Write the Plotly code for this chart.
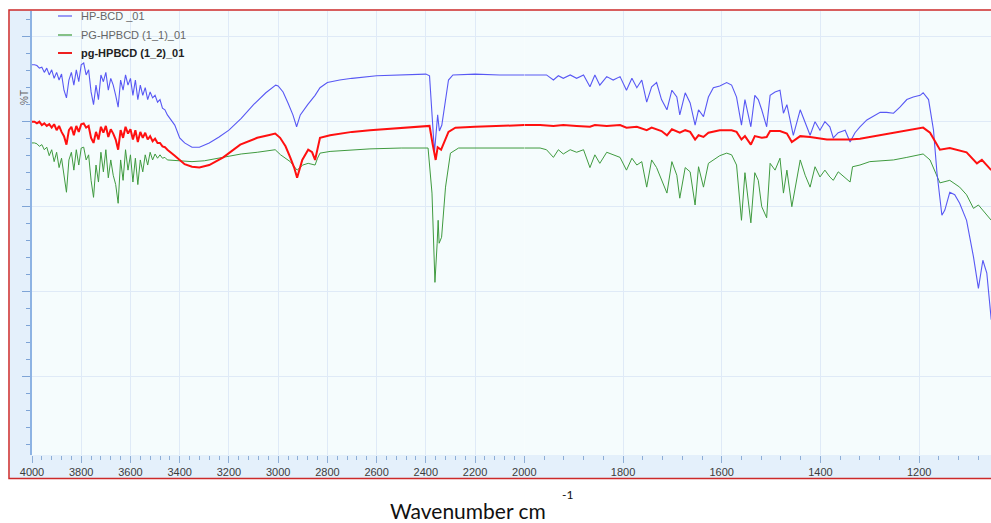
import plotly.graph_objects as go

# ---------------- data (wavenumber cm-1, %T) ----------------
wn_noise = [4000, 3990, 3980, 3970, 3960, 3950, 3940, 3930, 3920, 3910,
            3900, 3890, 3880, 3870, 3860, 3850, 3840, 3830, 3820, 3810,
            3800, 3790, 3780, 3770, 3760, 3750, 3740, 3730, 3720, 3710,
            3700, 3690, 3680, 3670, 3660, 3650, 3640, 3630, 3620, 3610,
            3600, 3590, 3580, 3570, 3560, 3550, 3540, 3530, 3520, 3510,
            3500, 3490, 3480, 3470, 3460, 3450]

blue_noise = [96.7, 96.7, 96.6, 96.3, 96.4, 95.8, 96.3, 95.5, 96.1, 95.1,
              95.8, 94.9, 95.6, 93.7, 92.8, 94.9, 95.8, 94.3, 96.1, 94.7,
              96.7, 96.9, 95.5, 96.1, 93.5, 92.0, 94.3, 92.6, 95.5, 94.7,
              95.8, 93.7, 95.1, 94.3, 93.1, 91.7, 94.9, 93.7, 95.5, 94.3,
              95.1, 93.1, 94.9, 92.6, 94.3, 93.1, 94.0, 92.6, 93.5, 92.8,
              93.1, 92.3, 92.6, 91.6, 91.4, 90.8]
red_noise = [90.0, 90.0, 89.8, 90.0, 89.6, 89.8, 89.5, 89.7, 89.3, 89.7,
             89.0, 89.5, 88.8, 88.3, 87.3, 89.0, 89.4, 88.4, 89.5, 88.8,
             89.7, 89.8, 89.3, 89.5, 88.1, 87.5, 88.8, 87.9, 89.4, 88.7,
             89.5, 88.2, 89.1, 88.6, 87.9, 86.7, 89.0, 88.1, 89.4, 88.6,
             89.1, 87.9, 89.0, 87.6, 88.8, 88.1, 88.7, 87.9, 88.3, 87.7,
             88.0, 87.5, 87.5, 87.1, 87.0, 86.7]
green_noise = [87.5, 87.5, 87.4, 87.1, 87.3, 86.7, 87.0, 86.0, 86.7, 85.3,
               86.4, 84.6, 85.7, 83.7, 81.7, 85.5, 86.4, 84.3, 86.7, 84.9,
               86.9, 87.0, 85.5, 86.1, 83.1, 81.1, 84.9, 82.9, 86.4, 84.1,
               86.7, 83.4, 85.5, 83.7, 82.6, 80.4, 85.5, 83.1, 86.7, 84.3,
               86.1, 82.9, 85.7, 82.6, 85.5, 84.1, 86.1, 84.9, 86.4, 85.5,
               86.2, 85.7, 86.1, 85.7, 85.8, 85.5]

blue_mid_wn = [3420, 3400, 3380, 3350, 3320, 3280, 3240, 3200, 3150, 3100,
               3050, 3020, 3010, 3000, 2980, 2960, 2940, 2925, 2910, 2880,
               2850, 2830, 2800, 2750, 2700, 2600, 2500, 2400, 2385, 2375,
               2365, 2352, 2345, 2335, 2320, 2308, 2290, 2200, 2100, 2050]
blue_mid_t = [89.6, 88.1, 87.5, 87.0, 87.0, 87.5, 88.2, 89.0, 90.4, 92.0,
              93.4, 94.1, 94.3, 94.2, 93.5, 92.2, 90.8, 89.4, 90.8, 92.0,
              93.1, 94.0, 94.6, 94.9, 95.1, 95.4, 95.5, 95.6, 95.4, 91.4,
              86.4, 90.8, 88.9, 89.6, 92.6, 94.9, 95.5, 95.6, 95.5, 95.5]

red_mid_wn = [3420, 3400, 3380, 3350, 3320, 3280, 3223, 3154, 3085, 3040,
              3012, 2992, 2970, 2951, 2935, 2923, 2910, 2902, 2878, 2862,
              2850, 2840, 2830, 2789, 2700, 2627, 2500, 2400, 2385, 2372,
              2360, 2352, 2338, 2308, 2280, 2200, 2100, 2050]
red_mid_t = [86.0, 85.5, 85.0, 84.7, 84.6, 84.9, 85.8, 87.3, 88.1, 88.4,
             88.6, 88.1, 87.1, 85.8, 84.6, 83.4, 84.9, 85.5, 86.7, 86.4,
             85.5, 86.9, 88.1, 88.4, 88.8, 89.0, 89.3, 89.5, 89.5, 87.3,
             85.5, 87.0, 86.7, 88.8, 89.3, 89.4, 89.5, 89.6]

green_mid_wn = [3400, 3350, 3300, 3223, 3150, 3085, 3012, 2990, 2951, 2923,
                2900, 2878, 2860, 2850, 2840, 2830, 2789, 2700, 2627, 2500,
                2391, 2375, 2363, 2354, 2350, 2346, 2336, 2320, 2300, 2267,
                2200, 2100, 2050]
green_mid_t = [85.4, 85.3, 85.4, 85.8, 86.2, 86.4, 86.7, 86.1, 85.3, 84.3,
               84.9, 85.1, 85.0, 84.9, 85.7, 86.3, 86.5, 86.7, 86.8, 86.9,
               86.9, 81.6, 71.1, 75.7, 78.4, 75.7, 76.4, 82.3, 86.3, 86.9,
               86.9, 86.9, 86.9]

blue_low_wn = [2000, 1968, 1955, 1941, 1931, 1921, 1907, 1894, 1880, 1867,
               1857, 1847, 1833, 1820, 1806, 1793, 1782, 1772, 1762, 1752,
               1742, 1732, 1722, 1711, 1701, 1691, 1685, 1674, 1664, 1654,
               1647, 1637, 1627, 1617, 1604, 1590, 1580, 1570, 1560, 1553,
               1541, 1533, 1526, 1519, 1509, 1502, 1492, 1482, 1475, 1468,
               1462, 1455, 1441, 1431, 1421, 1411, 1401, 1391, 1381, 1374,
               1364, 1350, 1340, 1330, 1320, 1306, 1293, 1279, 1266, 1252,
               1239, 1225, 1212, 1198, 1192, 1181, 1171, 1164, 1154, 1148,
               1138, 1128, 1118, 1104, 1090, 1080, 1071, 1063, 1054]
blue_low_t = [95.5, 95.5, 95.5, 94.9, 95.4, 95.1, 95.5, 95.1, 95.5, 94.1,
              95.5, 94.3, 95.3, 94.9, 95.3, 93.7, 95.1, 94.0, 94.9, 92.3,
              94.1, 94.6, 92.6, 91.4, 93.7, 92.9, 90.8, 93.4, 92.2, 89.6,
              91.4, 90.6, 92.9, 94.0, 94.2, 94.6, 94.3, 92.9, 89.6, 92.6,
              89.4, 93.1, 92.6, 91.4, 89.4, 93.1, 93.5, 93.7, 91.0, 92.0,
              90.4, 88.4, 91.4, 89.8, 88.4, 90.0, 89.0, 90.0, 89.4, 88.1,
              88.7, 89.0, 87.6, 88.7, 89.4, 90.2, 90.6, 91.1, 91.1, 91.0,
              91.7, 92.6, 92.9, 93.1, 93.4, 92.6, 89.0, 84.0, 79.0, 79.6,
              81.7, 81.4, 80.4, 78.4, 74.1, 70.4, 73.7, 72.2, 66.7]

red_low_wn = [2000, 1968, 1941, 1921, 1894, 1867, 1857, 1833, 1806, 1793,
              1772, 1752, 1742, 1722, 1711, 1701, 1685, 1674, 1664, 1654,
              1647, 1637, 1627, 1604, 1580, 1570, 1560, 1553, 1541, 1533,
              1519, 1509, 1502, 1482, 1468, 1458, 1441, 1421, 1387, 1340,
              1320, 1279, 1225, 1192, 1178, 1158, 1138, 1104, 1083, 1073,
              1054]
red_low_t = [89.6, 89.6, 89.5, 89.6, 89.5, 89.4, 89.6, 89.5, 89.6, 89.3,
             89.4, 89.0, 89.3, 88.9, 88.4, 89.1, 88.7, 89.0, 88.8, 87.9,
             88.4, 88.2, 88.7, 89.0, 89.0, 88.8, 87.9, 88.3, 87.3, 88.3,
             88.1, 88.2, 88.9, 88.9, 88.6, 87.6, 88.3, 88.2, 87.9, 87.9,
             88.0, 88.4, 89.0, 89.3, 88.7, 86.7, 86.9, 86.4, 85.1, 85.5,
             84.3]

green_low_wn = [2000, 1968, 1955, 1941, 1931, 1921, 1907, 1894, 1880, 1867,
                1857, 1847, 1833, 1820, 1806, 1793, 1782, 1772, 1762, 1752,
                1742, 1732, 1722, 1711, 1701, 1691, 1685, 1674, 1664, 1654,
                1647, 1637, 1627, 1617, 1604, 1590, 1580, 1570, 1560, 1553,
                1541, 1533, 1526, 1519, 1509, 1502, 1492, 1482, 1475, 1468,
                1458, 1441, 1431, 1421, 1411, 1401, 1391, 1381, 1374, 1364,
                1350, 1340, 1335, 1320, 1300, 1252, 1225, 1198, 1192, 1178,
                1164, 1158, 1138, 1118, 1104, 1090, 1080, 1054]
green_low_t = [86.9, 86.9, 86.7, 85.8, 86.7, 86.2, 86.7, 86.4, 86.7, 84.6,
               86.1, 85.1, 86.4, 86.1, 85.8, 84.3, 85.7, 84.9, 85.3, 82.3,
               85.5, 84.6, 83.1, 81.6, 85.3, 83.7, 81.0, 84.6, 84.1, 80.2,
               84.7, 82.3, 85.1, 85.5, 86.0, 86.3, 86.1, 84.9, 78.4, 84.0,
               78.1, 84.0, 83.1, 80.0, 78.7, 85.1, 84.3, 85.7, 81.6, 84.3,
               80.0, 85.5, 83.7, 82.3, 84.7, 83.5, 84.3, 83.5, 83.1, 84.1,
               83.4, 82.9, 84.7, 84.9, 85.3, 85.5, 85.8, 86.2, 86.2, 85.5,
               83.7, 82.8, 83.1, 82.3, 81.4, 79.8, 80.2, 78.4]

series_names = ["HP-BCD _01", "PG-HPBCD (1_1)_01", "pg-HPBCD (1_2)_01"]
ticks_high = [4000, 3800, 3600, 3400, 3200, 3000, 2800, 2600, 2400, 2200]
ticks_low = [2000, 1800, 1600, 1400, 1200]

# ---------------- figure ----------------
W, H = 991, 523
ML, MR, MT, MB = 32, 0, 11, 68
PW, PH = W - ML - MR, H - MT - MB


def px(x):
    return (x - ML) / PW


def py(y):
    return (H - MB - y) / PH


split = px(524.3)

series = {
    "blue": (wn_noise + blue_mid_wn, blue_noise + blue_mid_t, blue_low_wn, blue_low_t),
    "green": (wn_noise + green_mid_wn, green_noise + green_mid_t, green_low_wn, green_low_t),
    "red": (wn_noise + red_mid_wn, red_noise + red_mid_t, red_low_wn, red_low_t),
}
styles = {
    "blue": dict(color="#5858f4", width=1.1),
    "green": dict(color="#3f9a3f", width=1.0),
    "red": dict(color="#ff1010", width=2.0),
}

fig = go.Figure()
for key in ["green", "blue", "red"]:
    hw, ht, lw, lt = series[key]
    # connect the two panels at 2000 cm-1
    fig.add_trace(go.Scatter(x=hw + [lw[0]], y=ht + [lt[0]], mode="lines",
                             line=styles[key], xaxis="x", yaxis="y",
                             showlegend=False, hoverinfo="skip"))
    fig.add_trace(go.Scatter(x=lw, y=lt, mode="lines", line=styles[key],
                             xaxis="x2", yaxis="y", showlegend=False,
                             hoverinfo="skip"))

tickfont = dict(family="Liberation Sans, Arial, sans-serif", size=11, color="#3c3c3c")
grid_c = "#dfeaf7"
tick_c = "#8eaed6"
common_x = dict(showgrid=True, gridcolor=grid_c, gridwidth=1, zeroline=False,
                ticks="outside", ticklen=7, tickcolor=tick_c, tickwidth=1,
                tickfont=tickfont, showline=False, tickmode="array",
                minor=dict(tickmode="linear", tick0=0, dtick=40, ticks="outside",
                           ticklen=4, tickcolor=tick_c, tickwidth=1, showgrid=False))

fig.update_layout(
    width=W, height=H,
    margin=dict(l=ML, r=MR, t=MT, b=MB, pad=0),
    paper_bgcolor="white",
    plot_bgcolor="#f5fcfd",
    showlegend=False,
    xaxis=dict(domain=[0, split], range=[4000, 2000], tickvals=ticks_high,
               anchor="y", **common_x),
    xaxis2=dict(domain=[split, 1], range=[2000, 1054.5], tickvals=ticks_low,
                anchor="y", **common_x),
    yaxis=dict(range=[50.79, 103.02], tickmode="linear", tick0=0, dtick=10,
               showticklabels=False, showgrid=True, gridcolor=grid_c,
               zeroline=False, ticks="outside", ticklen=8, tickcolor="#7ea4d6",
               tickwidth=1, showline=True, linecolor="#8db3e3", linewidth=2,
               minor=dict(dtick=2, ticks="outside", ticklen=4,
                          tickcolor="#7ea4d6", showgrid=False)),
)

band_c = "#e4f0fb"
shapes = [
    dict(type="rect", xref="paper", yref="paper", x0=px(10), x1=0, y0=py(478),
         y1=py(10), fillcolor=band_c, line=dict(width=0), layer="below"),
    dict(type="rect", xref="paper", yref="paper", x0=px(10), x1=1, y0=py(478),
         y1=0, fillcolor=band_c, line=dict(width=0), layer="below"),
    dict(type="rect", xref="paper", yref="paper", x0=px(9), x1=px(993), y0=py(478.5),
         y1=py(10), fillcolor="rgba(0,0,0,0)", line=dict(color="#cc2a2a", width=1.5),
         layer="above"),
]

legend_y = [16, 35, 53]
legend_c = ["#7a7af2", "#5fae5f", "#ee2020"]
annotations = []
for name, yy, c, k in zip(series_names, legend_y, legend_c, range(3)):
    shapes.append(dict(type="line", xref="paper", yref="paper", x0=px(58), x1=px(72),
                       y0=py(yy), y1=py(yy), line=dict(color=c, width=2 if k == 2 else 1.5),
                       layer="above"))
    annotations.append(dict(
        x=px(79), y=py(yy), xref="paper", yref="paper", xanchor="left",
        yanchor="middle", showarrow=False,
        text=("<b>%s</b>" % name) if k == 2 else name,
        font=dict(family="Liberation Sans, Arial, sans-serif", size=11,
                  color="#222222" if k == 2 else "#666666")))

annotations += [
    dict(x=px(17), y=py(88), xref="paper", yref="paper", text="%T", textangle=-90,
         showarrow=False, font=dict(family="Liberation Sans, Arial", size=10, color="#666666")),
    dict(x=px(468), y=py(510), xref="paper", yref="paper", text="Wavenumber cm",
         showarrow=False, xanchor="center", yanchor="middle",
         font=dict(family="Lato, Open Sans, sans-serif", size=21, color="#111111")),
    dict(x=px(567), y=py(494), xref="paper", yref="paper", text="-1",
         showarrow=False, xanchor="center", yanchor="middle",
         font=dict(family="Lato, Open Sans, sans-serif", size=12, color="#111111")),
]

fig.update_layout(shapes=shapes, annotations=annotations)

fig.write_html("out.html", config={"displayModeBar": False},
               post_script="document.body.style.margin='0';"
                           "document.body.style.padding='0';"
                           "document.body.style.overflow='hidden';")
